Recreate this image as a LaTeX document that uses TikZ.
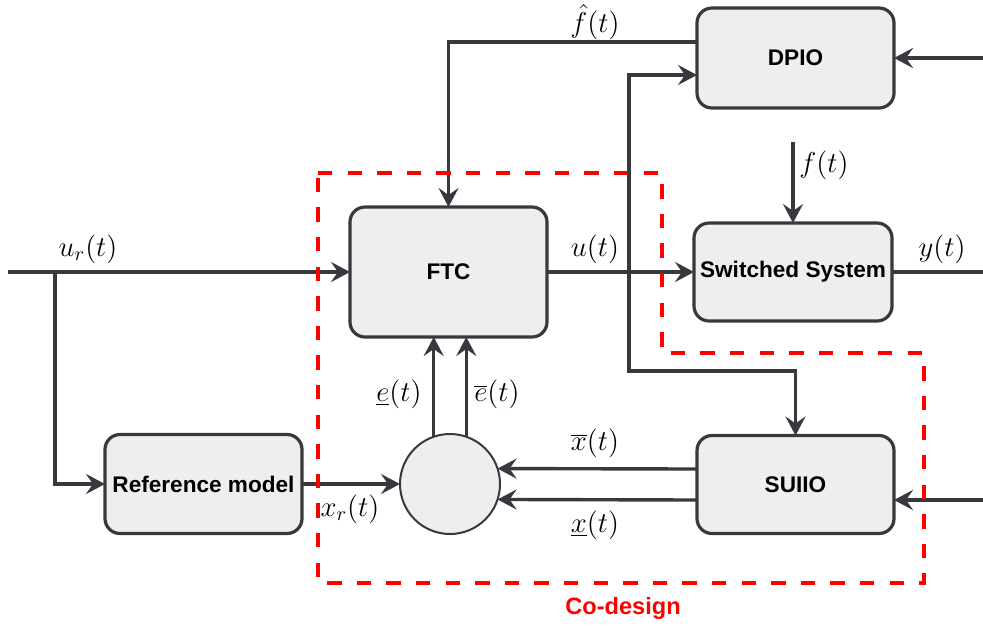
\documentclass[tikz,border=0pt]{standalone}
\usepackage{fontspec}
\newfontfamily\labelfont{Liberation Sans}
\usetikzlibrary{arrows.meta,calc}
\definecolor{edge}{HTML}{36393D}
\definecolor{boxfill}{HTML}{EEEEEE}
\definecolor{coline}{HTML}{FF0000}
\tikzset{
  blk/.style={draw=edge, fill=boxfill, line width=1.6pt, rounded corners=7.5pt,
    inner sep=0pt, outer sep=0pt, align=center,
    font=\labelfont\bfseries\fontsize{11.3}{13}\selectfont},
  junction/.style={draw=edge, fill=boxfill, line width=1pt, circle,
    inner sep=0pt, outer sep=0pt, minimum size=50pt},
  sig/.style={draw=edge, line width=1.7pt,
    -{Stealth[length=9.5pt, width=10pt, inset=3.5pt]}},
  wire/.style={draw=edge, line width=1.7pt},
  lbl/.style={inner sep=0pt, font=\fontsize{14}{16}\selectfont},
  codesign/.style={draw=coline, line width=2.4pt, dash pattern=on 7.2pt off 7.6pt},
}
\begin{document}
\begin{tikzpicture}[x=0.5pt, y=-0.5pt]
\useasboundingbox (0,0) rectangle (983,628);

% blocks
\node[blk, minimum width=98.5pt, minimum height=50pt] (dpio) at (795.5,58) {DPIO};
\node[blk, minimum width=98.5pt, minimum height=65pt] (ftc) at (448.5,272) {FTC};
\node[blk, minimum width=99pt, minimum height=49pt] (sys) at (793,272) {Switched System};
\node[blk, minimum width=98.5pt, minimum height=49.5pt] (ref) at (203.5,484) {Reference model};
\node[blk, minimum width=98.5pt, minimum height=49pt] (suiio) at (795.5,484.5) {SUIIO};
\node[junction] (sum) at (450,484) {};

% free ends and branch points
\coordinate (dpioIn) at (983,58);
\coordinate (sysOut) at (983,272);
\coordinate (urIn) at (8,272);
\coordinate (urBr) at (55,272);
\coordinate (uBr) at (629,272);
\coordinate (uTurn) at (629,371);
\coordinate (fIn) at (793,142);
\coordinate (suIn) at (983,500);

% connectors
\draw[sig] (dpioIn) -- (dpio.east);
\draw[sig] ([yshift=8pt]dpio.west) -| (ftc.north);
\draw[sig] (uBr) |- ([yshift=-8.5pt]dpio.west);
\draw[sig] (fIn) -- (sys.north);
\draw[sig] (urIn) -- (ftc.west);
\draw[sig] (urBr) |- (ref.west);
\draw[sig] (ftc.east) -- (sys.west);
\draw[wire] (sys.east) -- (sysOut);
\draw[sig] (uBr) -- (uTurn) -| (suiio.north);
\draw[sig] (ref.east) -- (sum.west);
\draw[sig] (sum.109) -- (sum.109 |- ftc.south);
\draw[sig] (sum.71) -- (sum.71 |- ftc.south);
\draw[sig] ([yshift=7.75pt]suiio.west) -- (sum.18);
\draw[sig] ([yshift=-7.75pt]suiio.west) -- (sum.-18);
\draw[sig] (suIn) -- (suIn -| suiio.east);

% signal labels
\node[lbl] (lfhat) at (595,22) {$\hat{f}(t)$};
\node[lbl] (lf) at (824,165) {$f(t)$};
\node[lbl] (lur) at (88,249) {$u_r(t)$};
\node[lbl] (lu) at (595,249) {$u(t)$};
\node[lbl] (ly) at (942,249) {$y(t)$};
\node[lbl] (lel) at (399,394) {$\underline{e}(t)$};
\node[lbl] (leu) at (497,394) {$\overline{e}(t)$};
\node[lbl] (lxu) at (595,443) {$\overline{x}(t)$};
\node[lbl] (lxl) at (595,525) {$\underline{x}(t)$};
\node[lbl] (lxr) at (350,509) {$x_r(t)$};

% co-design region
\draw[codesign] (318,173) -- (662,173) -- (662,353) -- (924,353) -- (924,583) -- (318,583) -- cycle;
\node[text=coline, font=\labelfont\bfseries\fontsize{11.8}{14}\selectfont] (lco) at (623,608) {Co-design};
\end{tikzpicture}
\end{document}
